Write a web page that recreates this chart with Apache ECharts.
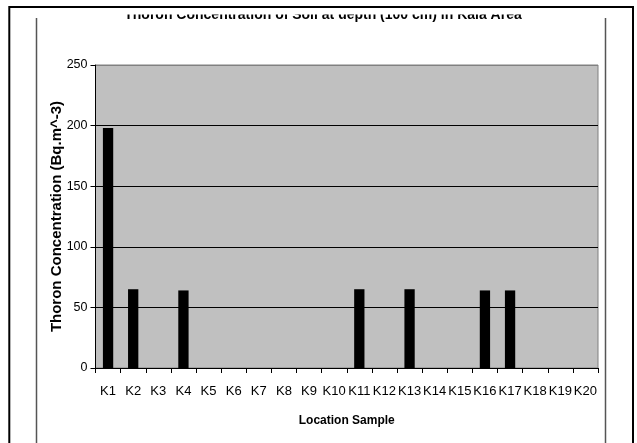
<!DOCTYPE html>
<html>
<head>
<meta charset="utf-8">
<script src="https://cdn.jsdelivr.net/npm/echarts@6/dist/echarts.min.js"></script>
<style>
html,body{margin:0;padding:0;background:#fff;}
#chart{width:637px;height:443px;}
</style>
</head>
<body>
<div id="chart"></div>
<script>
const categories = ['K1','K2','K3','K4','K5','K6','K7','K8','K9','K10','K11','K12','K13','K14','K15','K16','K17','K18','K19','K20'];
const thoronValues = [198,65,0,64,0,0,0,0,0,0,65,0,65,0,0,64,64,0,0,0];
const yTicks = { min: 0, max: 250, interval: 50 };
const titleText = 'Thoron Concentration of Soil at depth (100 cm) in Kala Area';
const xAxisTitle = 'Location Sample';
const yAxisTitle = 'Thoron Concentration (Bq.m^-3)';

const FONT = '"Liberation Sans", Arial, sans-serif';
const chart = echarts.init(document.getElementById('chart'), null, {renderer: 'canvas'});
chart.setOption({
  animation: false,
  backgroundColor: '#ffffff',
  title: {
    text: titleText,
    left: 323,
    top: 8,
    textAlign: 'center',
    padding: 0,
    textStyle: {fontFamily: FONT, fontSize: 14, fontWeight: 'bold', color: '#000'}
  },
  grid: {
    left: 95.5, right: 39, top: 65, bottom: 75,
    show: true, backgroundColor: '#c0c0c0', borderColor: '#808080', borderWidth: 1
  },
  xAxis: {
    type: 'category',
    data: categories,
    boundaryGap: true,
    name: xAxisTitle,
    nameLocation: 'middle',
    nameGap: 47,
    nameMoveOverlap: false,
    nameTextStyle: {fontFamily: FONT, fontSize: 12, fontWeight: 'bold', color: '#000'},
    axisLine: {show: true, lineStyle: {color: '#000', width: 1}},
    axisTick: {show: true, interval: 0, length: 5, lineStyle: {color: '#000'}},
    axisLabel: {interval: 0, margin: 17, fontFamily: FONT, fontSize: 13, color: '#000'},
    splitLine: {show: false}
  },
  yAxis: {
    type: 'value',
    min: yTicks.min, max: yTicks.max, interval: yTicks.interval,
    name: yAxisTitle,
    nameLocation: 'middle',
    nameGap: 31,
    nameMoveOverlap: false,
    nameRotate: 90,
    nameTextStyle: {fontFamily: FONT, fontSize: 15, fontWeight: 'bold', color: '#000'},
    axisLine: {show: true, lineStyle: {color: '#000', width: 1}},
    axisTick: {show: true, length: 5, lineStyle: {color: '#000'}},
    axisLabel: {margin: 8, fontFamily: FONT, fontSize: 12.5, color: '#000'},
    splitLine: {show: true, lineStyle: {color: ['#000','#000','#000','#000','#000','#808080'], width: 1}}
  },
  series: [{
    type: 'bar',
    data: thoronValues,
    barWidth: '41%',
    itemStyle: {color: '#000', borderWidth: 0},
    silent: true
  }],
  graphic: [
    {type: 'rect', z: 100, shape: {x: 10, y: 0, width: 622, height: 14.5}, style: {fill: '#fff'}},
    {type: 'polyline', z: 101, shape: {points: [[9.3, 450], [9.3, 7], [633, 7], [633, 450]]}, style: {stroke: '#000', lineWidth: 2, fill: null}},
    {type: 'line', z: 101, shape: {x1: 36.5, y1: 18, x2: 36.5, y2: 450}, style: {stroke: '#555', lineWidth: 1.5}},
    {type: 'line', z: 101, shape: {x1: 605.5, y1: 18, x2: 605.5, y2: 450}, style: {stroke: '#555', lineWidth: 1.5}}
  ]
});
</script>
</body>
</html>
